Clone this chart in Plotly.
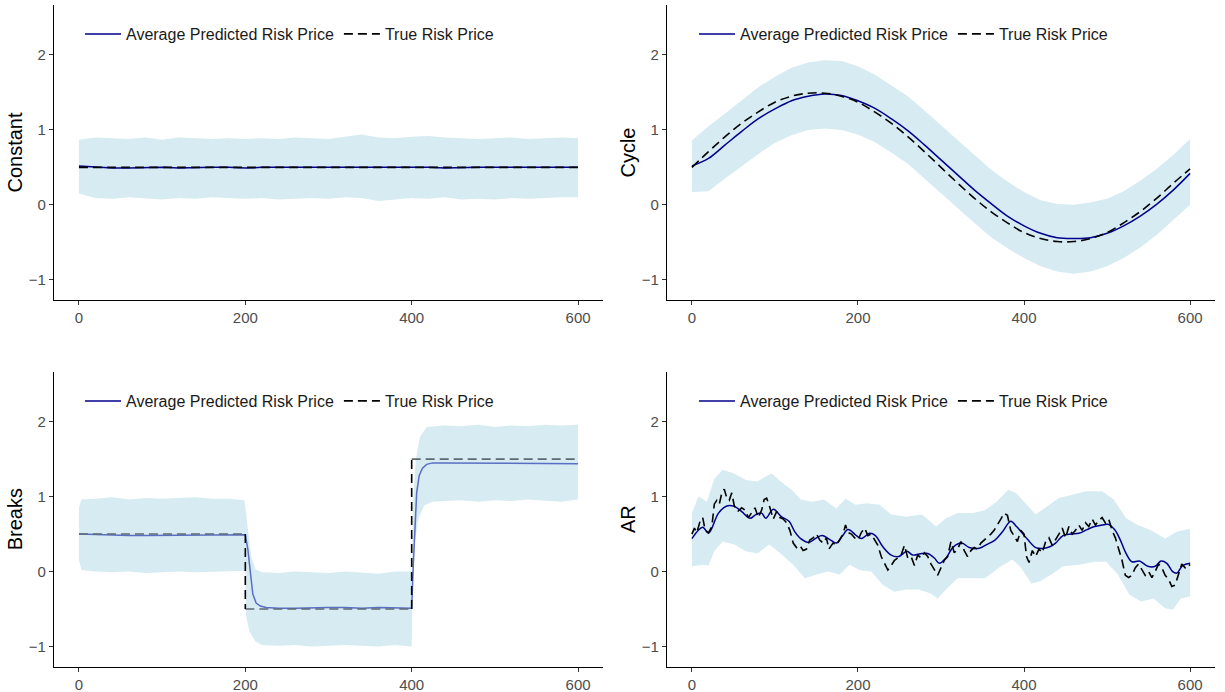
import plotly.graph_objects as go

# ---------------- data ----------------
T20 = list(range(0, 601, 20))

# Constant panel
const_up = [0.87,0.90,0.89,0.88,0.90,0.87,0.90,0.89,0.88,0.89,
            0.88,0.89,0.88,0.90,0.89,0.88,0.91,0.94,0.90,0.89,
            0.91,0.92,0.90,0.89,0.88,0.89,0.90,0.88,0.89,0.90,0.89]
const_lo = [0.15,0.09,0.08,0.10,0.08,0.07,0.09,0.08,0.10,0.09,
            0.08,0.09,0.07,0.08,0.09,0.08,0.10,0.09,0.05,0.07,
            0.09,0.08,0.10,0.07,0.08,0.07,0.09,0.08,0.09,0.10,0.10]
const_pred = [0.52,0.50,0.49,0.49,0.50,0.50,0.49,0.50,0.50,0.50,
              0.49,0.50,0.50,0.50,0.50,0.50,0.51,0.50,0.50,0.50,
              0.50,0.50,0.49,0.50,0.50,0.50,0.50,0.49,0.50,0.50,0.50]
const_true_t = [0, 600]
const_true = [0.5, 0.5]

# Cycle panel
cyc_true = [0.50,0.71,0.91,1.09,1.24,1.37,1.45,1.49,1.49,1.45,
            1.37,1.24,1.09,0.91,0.71,0.50,0.29,0.09,-0.09,-0.24,
            -0.37,-0.45,-0.49,-0.49,-0.45,-0.37,-0.24,-0.09,0.09,0.29,0.48]
cyc_pred = [0.52,0.62,0.80,0.98,1.15,1.28,1.39,1.45,1.48,1.46,
            1.39,1.29,1.15,0.99,0.80,0.60,0.40,0.20,0.02,-0.15,
            -0.28,-0.38,-0.44,-0.45,-0.44,-0.38,-0.28,-0.15,0.01,0.20,0.42]
cyc_up = [0.86,1.05,1.22,1.40,1.57,1.71,1.83,1.90,1.93,1.92,
          1.85,1.74,1.60,1.45,1.26,1.06,0.86,0.66,0.47,0.31,
          0.17,0.06,0.01,0.00,0.03,0.08,0.18,0.32,0.48,0.67,0.88]
cyc_lo = [0.17,0.18,0.35,0.52,0.68,0.83,0.93,1.00,1.02,1.00,
          0.94,0.84,0.70,0.55,0.36,0.16,-0.04,-0.24,-0.43,-0.58,
          -0.71,-0.82,-0.89,-0.92,-0.89,-0.82,-0.71,-0.57,-0.40,-0.20,0.00]

# Breaks panel
br_up_t = [0,3,20,40,60,80,100,120,140,160,180,199,203,207,212,220,240,260,280,300,
           320,340,360,380,400,402,405,410,418,440,460,480,500,520,540,560,580,600]
br_up = [0.85,0.96,0.97,0.99,0.96,0.98,0.97,0.98,0.99,0.97,0.97,0.95,0.55,0.20,0.03,-0.01,-0.02,0.00,-0.01,-0.02,
         0.00,-0.01,-0.03,0.00,0.00,1.00,1.50,1.80,1.93,1.95,1.94,1.96,1.93,1.95,1.94,1.96,1.95,1.96]
br_lo_t = [0,3,20,40,60,80,100,120,140,160,180,200,201,205,212,220,240,260,280,300,
           320,340,360,380,400,401,404,408,415,425,440,460,480,500,520,540,560,580,600]
br_lo = [0.15,0.02,0.00,-0.01,0.00,-0.02,-0.01,0.00,-0.01,0.00,0.00,0.01,-0.60,-0.80,-0.93,-0.98,-0.99,-0.98,-1.00,-0.99,
         -0.98,-0.99,-1.00,-0.98,-1.00,-0.20,0.40,0.70,0.88,0.93,0.94,0.95,0.93,0.95,0.94,0.96,0.95,0.93,0.96]
br_pred_t = [0,20,40,60,80,100,120,140,160,180,200,203,206,209,213,218,225,
             240,260,280,300,320,340,360,380,400,402,404,406,409,413,418,425,
             440,460,480,500,520,540,560,580,600]
br_pred = [0.50,0.49,0.49,0.48,0.48,0.48,0.49,0.49,0.49,0.49,0.49,0.30,-0.05,-0.30,-0.42,-0.46,-0.48,
           -0.49,-0.49,-0.48,-0.48,-0.48,-0.49,-0.48,-0.49,-0.49,0.10,0.70,1.05,1.28,1.38,1.43,1.45,
           1.45,1.45,1.44,1.44,1.45,1.45,1.44,1.45,1.44]
br_true_breaks = [0, 200, 400, 600]
br_true_levels = [0.5, -0.5, 1.5]

# AR panel
ar_up_t = [0,8,18,27,37,51,65,79,89,96,107,122,131,145,159,174,185,197,211,226,
           240,258,277,294,306,320,339,353,367,381,391,400,414,428,442,457,475,494,508,523,
           537,551,570,584,600]
ar_up = [0.78,1.00,0.93,1.24,1.36,1.31,1.22,1.20,1.27,1.31,1.20,1.07,0.96,0.93,0.96,0.84,0.97,0.89,0.91,0.89,
         0.76,0.73,0.76,0.60,0.71,0.78,0.78,0.82,0.93,1.09,1.04,0.93,0.76,0.87,0.98,1.02,1.07,1.07,0.96,0.71,
         0.62,0.56,0.44,0.53,0.57]
ar_lo_t = [0,13,20,27,37,51,65,79,93,107,122,136,150,164,178,190,202,216,230,244,
           258,273,287,296,306,320,334,353,372,386,395,409,419,433,447,466,485,499,513,527,
           541,556,570,579,589,600]
ar_lo = [0.07,0.09,0.08,0.27,0.40,0.36,0.27,0.24,0.36,0.24,0.09,-0.09,-0.04,0.00,-0.04,0.09,0.02,0.00,-0.18,-0.27,
         -0.24,-0.24,-0.29,-0.36,-0.24,-0.09,-0.09,-0.09,0.07,0.16,0.07,-0.16,-0.13,-0.04,0.07,0.09,0.13,0.13,-0.04,-0.31,
         -0.40,-0.36,-0.49,-0.51,-0.36,-0.33]
ar_pred_t = [0,13,20,32,42,51,60,70,77,84,89,98,108,117,124,131,141,150,157,167,
             174,181,188,197,204,214,221,230,240,249,259,266,277,284,292,298,306,315,325,334,
             346,355,365,374,384,391,398,405,414,424,431,438,447,457,466,476,485,494,501,509,
             516,523,530,539,549,558,565,572,579,584,591,600]
ar_pred = [0.44,0.59,0.51,0.78,0.875,0.87,0.80,0.71,0.76,0.78,0.71,0.83,0.73,0.67,0.53,0.44,0.39,0.45,0.48,0.42,
           0.38,0.47,0.56,0.49,0.44,0.51,0.48,0.33,0.22,0.20,0.27,0.22,0.24,0.24,0.18,0.11,0.18,0.33,0.38,0.32,
           0.31,0.36,0.42,0.53,0.67,0.60,0.51,0.42,0.32,0.31,0.33,0.38,0.48,0.50,0.51,0.56,0.60,0.62,0.63,0.56,
           0.42,0.24,0.13,0.14,0.07,0.07,0.14,0.11,0.00,-0.02,0.08,0.11]
ar_true_t = [0,3,6,10,13,16,20,24,27,30,33,36,39,42,45,48,51,55,60,64,
             68,72,76,80,84,87,90,94,98,102,106,110,114,118,120,122,126,130,134,138,
             142,146,150,154,158,162,165,170,174,178,182,185,188,192,196,200,204,208,212,216,
             220,224,228,232,236,240,244,248,252,256,260,264,268,272,276,280,284,288,292,296,
             300,304,308,312,316,320,324,328,332,336,340,344,348,352,356,360,364,368,372,376,
             380,384,388,392,396,400,403,406,410,414,418,422,426,430,434,438,442,446,450,454,
             458,462,466,470,474,478,482,486,490,494,498,502,506,510,514,518,522,526,530,534,
             538,542,546,550,554,558,562,566,570,574,578,582,586,590,594,598,600]
ar_true = [0.50,0.58,0.52,0.68,0.72,0.55,0.52,0.60,0.90,0.95,0.90,1.05,1.10,0.98,0.95,1.05,0.88,0.80,0.85,0.82,
           0.72,0.78,0.85,0.72,0.82,0.96,0.98,0.85,0.70,0.80,0.72,0.70,0.65,0.55,0.45,0.38,0.32,0.35,0.28,0.30,
           0.42,0.45,0.50,0.42,0.38,0.45,0.30,0.38,0.35,0.42,0.50,0.62,0.52,0.50,0.45,0.42,0.52,0.58,0.48,0.50,
           0.42,0.35,0.20,0.10,0.02,0.08,0.15,0.18,0.22,0.35,0.18,0.20,0.08,0.22,0.18,0.25,0.20,0.10,0.02,-0.05,
           0.05,0.15,0.20,0.40,0.25,0.30,0.40,0.28,0.20,0.28,0.32,0.30,0.38,0.42,0.45,0.50,0.55,0.62,0.70,0.78,
           0.75,0.55,0.48,0.40,0.55,0.50,0.20,0.12,0.28,0.20,0.30,0.25,0.40,0.45,0.35,0.42,0.50,0.58,0.45,0.60,
           0.50,0.55,0.62,0.55,0.65,0.60,0.70,0.62,0.68,0.72,0.65,0.70,0.55,0.45,0.30,0.15,-0.05,-0.08,-0.05,0.05,
           0.10,0.02,-0.05,0.00,-0.08,0.00,0.10,0.05,-0.05,-0.10,-0.20,-0.18,-0.05,0.10,0.05,0.10,0.08]

x_ticks = [0, 200, 400, 600]
y_ticks = [-1, 0, 1, 2]
y_ticktext = ["\u22121", "0", "1", "2"]
panel_titles = ["Constant", "Cycle", "Breaks", "AR"]
legend_labels = ["Average Predicted Risk Price", "True Risk Price"]

# ---------------- style ----------------
FONT = "Liberation Sans, Arial, Helvetica, sans-serif"
BAND = "rgba(173,216,230,0.5)"
NAVY = "#00008B"
BREAK_BLUE = "#5A6EC4"
GREY_DASH = "#5E6A70"
DASH = "9px,5px"
W, H = 1225, 692

fig = go.Figure()

def band(t_up, up, t_lo, lo, xa, ya):
    fig.add_trace(go.Scatter(
        x=list(t_up) + list(t_lo)[::-1], y=list(up) + list(lo)[::-1],
        fill="toself", fillcolor=BAND, line=dict(width=0), mode="lines",
        hoverinfo="skip", showlegend=False, xaxis=xa, yaxis=ya))

def line(t, v, xa, ya, color, width, dash=None, name=None, legend=None, show=False, shape="linear"):
    fig.add_trace(go.Scatter(
        x=t, y=v, mode="lines", name=name,
        line=dict(color=color, width=width, dash=dash, shape=shape),
        showlegend=show, legend=legend, xaxis=xa, yaxis=ya))

# Panel 1: Constant
band(T20, const_up, T20, const_lo, "x", "y")
line(T20, const_pred, "x", "y", NAVY, 1.5, name=legend_labels[0], legend="legend", show=True)
line(const_true_t, const_true, "x", "y", "black", 1.6, DASH, legend_labels[1], "legend", True)

# Panel 2: Cycle
band(T20, cyc_up, T20, cyc_lo, "x2", "y2")
line(T20, cyc_pred, "x2", "y2", NAVY, 1.5, name=legend_labels[0], legend="legend2", show=True, shape="spline")
line(T20, cyc_true, "x2", "y2", "black", 1.6, DASH, legend_labels[1], "legend2", True, shape="spline")

# Panel 3: Breaks
band(br_up_t, br_up, br_lo_t, br_lo, "x3", "y3")
line(br_pred_t, br_pred, "x3", "y3", BREAK_BLUE, 1.5)
for i, lvl in enumerate(br_true_levels):
    line([br_true_breaks[i], br_true_breaks[i + 1]], [lvl, lvl], "x3", "y3", GREY_DASH, 1.6, DASH)
for i in (1, 2):
    line([br_true_breaks[i], br_true_breaks[i]], [br_true_levels[i - 1], br_true_levels[i]],
         "x3", "y3", "black", 1.6, DASH)
line([None], [None], "x3", "y3", NAVY, 1.5, name=legend_labels[0], legend="legend3", show=True)
line([None], [None], "x3", "y3", "black", 1.6, DASH, legend_labels[1], "legend3", True)

# Panel 4: AR
band(ar_up_t, ar_up, ar_lo_t, ar_lo, "x4", "y4")
line(ar_pred_t, ar_pred, "x4", "y4", NAVY, 1.5, name=legend_labels[0], legend="legend4", show=True, shape="spline")
line(ar_true_t, ar_true, "x4", "y4", "black", 1.6, DASH, legend_labels[1], "legend4", True)

# ---------------- layout ----------------
xdom_l = [54 / W, 603 / W]
xdom_r = [667 / W, 1215 / W]
ydom_t = [1 - 300 / H, 1 - 5 / H]
ydom_b = [1 - 666.7 / H, 1 - 371.7 / H]

def xax(dom, anchor):
    return dict(domain=dom, anchor=anchor, range=[-30, 630], tickvals=x_ticks,
                ticks="outside", ticklen=4, tickwidth=1.1, tickcolor="#333333",
                showline=True, linecolor="black", linewidth=1.3, showgrid=False, zeroline=False,
                tickfont=dict(family=FONT, size=15, color="#4D4D4D"))

def yax(dom, anchor, title):
    return dict(domain=dom, anchor=anchor, range=[-1.27, 2.667], tickvals=y_ticks, ticktext=y_ticktext,
                ticks="outside", ticklen=4, tickwidth=1.1, tickcolor="#333333",
                showline=True, linecolor="black", linewidth=1.3, showgrid=False, zeroline=False,
                tickfont=dict(family=FONT, size=15, color="#4D4D4D"),
                title=dict(text=title, font=dict(family=FONT, size=20, color="black"), standoff=0))

def leg(x, y):
    return dict(orientation="h", x=x, y=y, xanchor="left", yanchor="middle",
                font=dict(family=FONT, size=16, color="#1A1A1A"), bgcolor="rgba(0,0,0,0)",
                borderwidth=0, tracegroupgap=0, itemwidth=36)

fig.update_layout(
    width=W, height=H, autosize=False,
    margin=dict(l=0, r=0, t=0, b=0),
    paper_bgcolor="white", plot_bgcolor="white",
    xaxis=xax(xdom_l, "y"), yaxis=yax(ydom_t, "x", panel_titles[0]),
    xaxis2=xax(xdom_r, "y2"), yaxis2=yax(ydom_t, "x2", panel_titles[1]),
    xaxis3=xax(xdom_l, "y3"), yaxis3=yax(ydom_b, "x3", panel_titles[2]),
    xaxis4=xax(xdom_r, "y4"), yaxis4=yax(ydom_b, "x4", panel_titles[3]),
    legend=leg(80 / W, 1 - 34 / H),
    legend2=leg(694 / W, 1 - 34 / H),
    legend3=leg(80 / W, 1 - 401 / H),
    legend4=leg(694 / W, 1 - 401 / H),
    showlegend=True,
)

fig.write_html("out.html")
